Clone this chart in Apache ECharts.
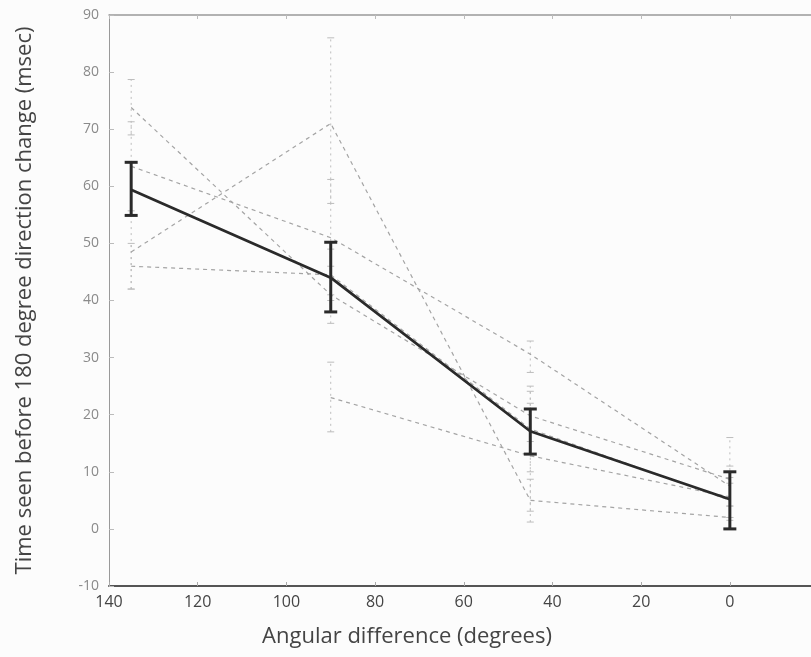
<!DOCTYPE html>
<html>
<head>
<meta charset="utf-8">
<script src="https://cdn.jsdelivr.net/npm/echarts@6/dist/echarts.min.js"></script>
<style>
  html, body { margin: 0; padding: 0; background: #fcfcfc; }
  #chart { width: 811px; height: 657px; }
</style>
</head>
<body>
<div id="chart"></div>
<script>
// angular difference (degrees)
const angles = [135, 90, 45, 0];
// group mean and its error bar
const meanTime = [59.4, 44.0, 17.1, 5.2];
const meanLow = [54.9, 38.0, 13.1, 0.0];
const meanHigh = [64.2, 50.2, 21.0, 10.0];
// individual subjects
const subj1 = [73.8, 41.0, 19.8, 8.7];
const subj1Low = [69.0, 36.0, 15.3, 1.5];
const subj1High = [78.7, 46.0, 24.1, 16.0];
const subj2 = [63.5, 51.0, 30.6, 7.5];
const subj2Low = [55.7, 41.0, 27.4, 4.0];
const subj2High = [71.3, 61.2, 32.9, 11.0];
const subj3 = [48.5, 71.0, 5.0, 2.0];
const subj3Low = [42.0, 57.0, 1.2, 0.0];
const subj3High = [55.0, 86.0, 8.7, 4.0];
const subj4 = [46.0, 44.5, 17.5, 5.0];
const subj4Low = [42.0, 40.0, 10.0, 2.0];
const subj4High = [50.0, 49.0, 25.0, 8.0];
const subj5 = [null, 23.0, 12.8, 5.6];
const subj5Low = [null, 17.0, 3.1, 2.0];
const subj5High = [null, 29.2, 22.0, 9.0];

const xTicks = [0, 20, 40, 60, 80, 100, 120, 140];

const subjects = [
  [subj1, subj1Low, subj1High],
  [subj2, subj2Low, subj2High],
  [subj3, subj3Low, subj3High],
  [subj4, subj4Low, subj4High],
  [subj5, subj5Low, subj5High]
];

function pairs(vals) {
  return angles.map((a, i) => [a, vals[i]]).filter(p => p[1] != null);
}

function bars(low, high) {
  return angles.map((a, i) => [a, low[i], high[i]]).filter(p => p[1] != null);
}

// draws vertical error bars with caps
function errorBar(data, color, width, cap, dash, z) {
  return {
    type: "custom",
    z: z,
    silent: true,
    renderItem: (params, api) => {
      const lo = api.coord([api.value(0), api.value(1)]);
      const hi = api.coord([api.value(0), api.value(2)]);
      const style = { stroke: color, lineWidth: width, lineDash: dash };
      return {
        type: "group",
        children: [
          { type: "line", shape: { x1: lo[0], y1: lo[1], x2: hi[0], y2: hi[1] }, style: style },
          { type: "line", shape: { x1: lo[0] - cap, y1: lo[1], x2: lo[0] + cap, y2: lo[1] }, style: { stroke: color, lineWidth: width } },
          { type: "line", shape: { x1: hi[0] - cap, y1: hi[1], x2: hi[0] + cap, y2: hi[1] }, style: { stroke: color, lineWidth: width } }
        ]
      };
    },
    data: data
  };
}

const series = [];
subjects.forEach((s) => {
  series.push(errorBar(bars(s[1], s[2]), "#bdbdbd", 1, 3.5, [2, 4], 1));
});
subjects.forEach((s) => {
  series.push({
    type: "line",
    z: 2,
    symbol: "none",
    silent: true,
    lineStyle: { color: "#a4a4a4", width: 1.2, type: [4, 4] },
    data: pairs(s[0])
  });
});
series.push({
  type: "line",
  z: 5,
  symbol: "none",
  silent: true,
  lineStyle: { color: "#2a2a2a", width: 2.8 },
  data: pairs(meanTime)
});
series.push(errorBar(bars(meanLow, meanHigh), "#2a2a2a", 3, 6.5, null, 6));

const chart = echarts.init(document.getElementById("chart"));
chart.setOption({
  backgroundColor: "#fcfcfc",
  animation: false,
  grid: { left: 109, right: 0, top: 15, bottom: 71 },
  xAxis: [
    {
      type: "value",
      inverse: true,
      min: -18.3,
      max: 140,
      name: "Angular difference (degrees)",
      nameLocation: "middle",
      nameGap: 40,
      nameTextStyle: { fontFamily: "Open Sans", fontSize: 22, color: "#444", padding: [0, 106, 0, 0] },
      axisLine: { onZero: false, lineStyle: { color: "#555", width: 2 } },
      axisTick: { show: true, inside: true, length: 4, lineStyle: { color: "#aaa" }, customValues: xTicks },
      axisLabel: { fontFamily: "Open Sans", fontSize: 16, color: "#444", margin: 8, customValues: xTicks },
      splitLine: { show: false }
    },
    {
      type: "value",
      position: "top",
      inverse: true,
      min: -18.3,
      max: 140,
      axisLine: { show: true, onZero: false, lineStyle: { color: "#999", width: 1.5 } },
      axisTick: { show: true, inside: true, length: 4, lineStyle: { color: "#bbb" }, customValues: xTicks },
      axisLabel: { show: false },
      splitLine: { show: false }
    }
  ],
  yAxis: {
    type: "value",
    min: -10,
    max: 90,
    interval: 10,
    name: "Time seen before 180 degree direction change (msec)",
    nameLocation: "middle",
    nameGap: 73,
    nameTextStyle: { fontFamily: "Open Sans", fontSize: 22, color: "#444" },
    axisLine: { show: true, onZero: false, lineStyle: { color: "#999", width: 1 } },
    axisTick: { show: true, inside: true, length: 5, lineStyle: { color: "#bbb" } },
    axisLabel: { fontFamily: "Open Sans", fontSize: 14, color: "#8a8a8a", margin: 10 },
    splitLine: { show: false }
  },
  series: series
});
</script>
</body>
</html>
